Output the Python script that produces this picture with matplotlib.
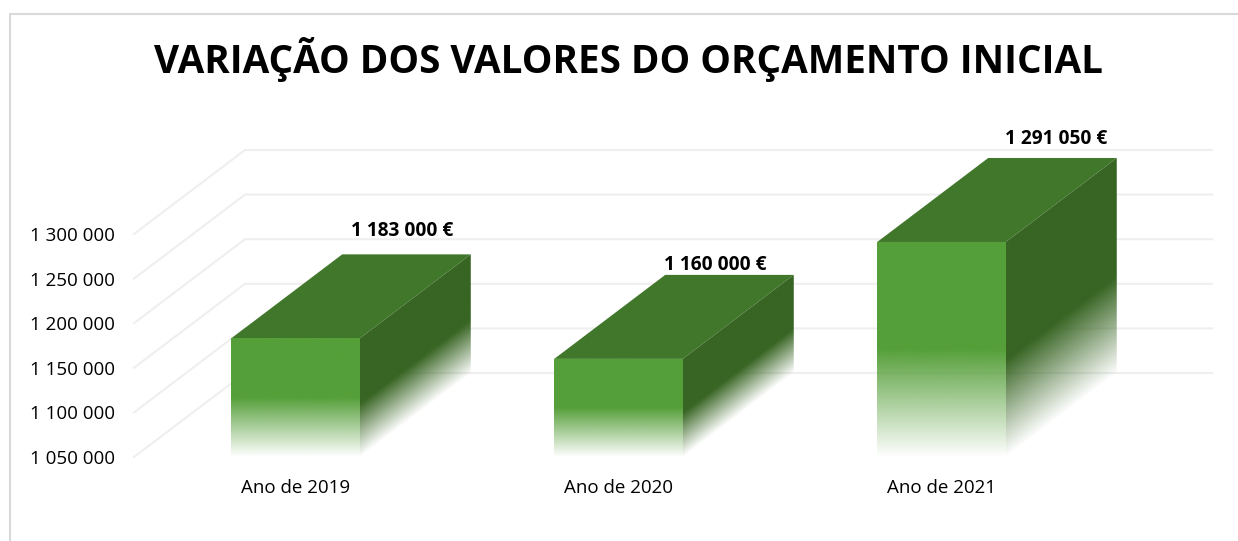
"""
Variacao dos valores do orcamento inicial - 3D look column chart
"""
import numpy as np
import matplotlib
matplotlib.use('Agg')
import matplotlib.pyplot as plt
from matplotlib.lines import Line2D
from matplotlib.patches import Polygon

plt.rcParams['font.family'] = ['Open Sans', 'DejaVu Sans']

# Data
categories = ['Ano de 2019', 'Ano de 2020', 'Ano de 2021']
values = [1183000, 1160000, 1291050]
value_labels = ['1 183 000 €', '1 160 000 €', '1 291 050 €']
y_ticks = [1050000, 1100000, 1150000, 1200000, 1250000, 1300000]
y_tick_labels = ['1 050 000', '1 100 000', '1 150 000', '1 200 000', '1 250 000', '1 300 000']
title = 'VARIAÇÃO DOS VALORES DO ORÇAMENTO INICIAL'

# Style
W, H = 1238, 541
FRONT = (0x55 / 255, 0x9F / 255, 0x39 / 255)
TOP = '#41772B'
SIDE = (0x38 / 255, 0x65 / 255, 0x23 / 255)
GRID = '#EFEFEF'
BAR_W = 0.398
# label offset from the back top corner of the bar, pixels
label_offsets = [(107, 23), (97, 10), (115, 19)]

fig = plt.figure(figsize=(W / 100, H / 100), dpi=100)
ax = fig.add_axes([134 / W, (H - 457) / H, 969 / W, 223 / H])
ax.set_xlim(-0.5, 2.5)
ax.set_ylim(y_ticks[0], y_ticks[-1])

# Depth of the fake 3D in data units
px_x = 1 / 323
px_y = 250000 / 223
DX = 111 * px_x
DY = 84 * px_y

for s in ax.spines.values():
    s.set_visible(False)
ax.patch.set_visible(False)
ax.set_xticks(range(len(categories)), categories)
ax.set_yticks(y_ticks, y_tick_labels)
ax.tick_params(axis='y', length=0, pad=14, labelsize=13.5, labelcolor='black')
ax.tick_params(axis='x', length=0, pad=15.5, labelsize=13.5, labelcolor='black')

# Floor diagonals and back wall lines
x_left = -0.5
x_right = 2.5 + DX - 2 * px_x
for t in y_ticks:
    ax.plot([x_left, x_left + DX, x_right], [t, t + DY, t + DY], color=GRID, lw=1.5,
            clip_on=False, zorder=1, solid_joinstyle='miter')


def fade_image(color, x0, x1, y0, height, slope, frac, zorder, clip):
    # RGBA picture, alpha rises from the bottom edge (sheared by slope) up to frac of height
    nx, ny = 200, 500
    xs = np.linspace(x0, x1, nx)
    y_top = y0 + height + slope * (x1 - x0)
    ys = np.linspace(y0, y_top, ny)
    X, Y = np.meshgrid(xs, ys)
    above = (Y - (y0 + slope * (X - x0))) / height
    alpha = np.clip(above / frac, 0, 1)
    img = np.zeros((ny, nx, 4))
    img[..., 0], img[..., 1], img[..., 2] = color
    img[..., 3] = alpha
    im = ax.imshow(img, origin='lower', extent=(x0, x1, y0, y_top), aspect='auto',
                   zorder=zorder, interpolation='bilinear')
    im.set_clip_path(clip)
    im.set_clip_box(fig.bbox)


for i, v in enumerate(values):
    x0 = i - BAR_W / 2
    x1 = i + BAR_W / 2
    y0 = y_ticks[0]
    height = v - y0

    top = Polygon([(x0, v), (x1, v), (x1 + DX, v + DY), (x0 + DX, v + DY)], closed=True,
                  facecolor=TOP, edgecolor='none', zorder=3, clip_on=False)
    ax.add_patch(top)

    front_clip = Polygon([(x0, y0), (x1, y0), (x1, v), (x0, v)], closed=True,
                         transform=ax.transData)
    fade_image(FRONT, x0, x1, y0, height, 0, 0.5, 3, front_clip)

    side_clip = Polygon([(x1, y0), (x1 + DX, y0 + DY), (x1 + DX, v + DY), (x1, v)], closed=True,
                        transform=ax.transData)
    fade_image(SIDE, x1, x1 + DX, y0, height, DY / DX, 0.45, 3, side_clip)

    ax.annotate(value_labels[i], (x1 + DX, v + DY), xycoords='data',
                xytext=(label_offsets[i][0] - 64.5 - 111, label_offsets[i][1]),
                textcoords='offset pixels', ha='center', va='center',
                fontsize=13.8, fontweight='bold', color='black', zorder=5,
                annotation_clip=False)

ax.set_xlim(-0.5, 2.5)
ax.set_ylim(y_ticks[0], y_ticks[-1])

# Chart frame, only top and left edges show in the crop
fig.add_artist(Line2D([9.5 / W, 9.5 / W, 1], [0, (H - 14) / H, (H - 14) / H],
                      color='#D9D9D9', lw=1.5, transform=fig.transFigure))

fig.text(628.5 / W, (H - 59) / H, title, ha='center', va='center', fontsize=27.8,
         fontweight='bold', color='black')

fig.savefig('out.png', dpi=100, facecolor='white')
